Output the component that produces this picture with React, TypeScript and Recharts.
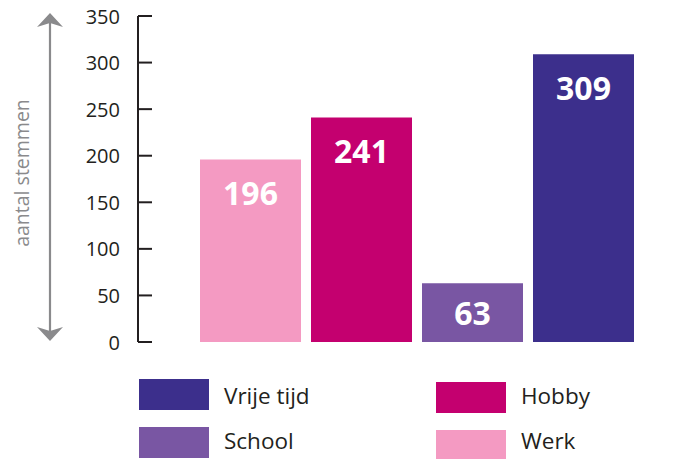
import React from "react";
import { BarChart, Bar, XAxis, YAxis, Cell, LabelList } from "recharts";

const categories = ["Werk", "Hobby", "School", "Vrije tijd"];
const votes = [196, 241, 63, 309];
const barColors = ["#f49ac2", "#c4006f", "#7956a3", "#3c2f8c"];
const yTicks = [0, 50, 100, 150, 200, 250, 300, 350];
const axisLabel = "aantal stemmen";

// legend reads in two columns: left column first, then right column
const legendOrder = ["Vrije tijd", "School", "Hobby", "Werk"];

const data = categories.map((name, i) => ({ name, votes: votes[i] }));

const FONT = "'Open Sans', 'Noto Sans', sans-serif";
const DARK = "#231f20";
const GRAY = "#8a8a8c";

function YTick(props: any) {
  const { x, y, payload } = props;
  return (
    <g>
      <line x1={x} x2={x + 14} y1={y} y2={y} stroke={DARK} strokeWidth={2} />
      <text
        x={x - 18}
        y={y}
        textAnchor="end"
        dominantBaseline="central"
        fontFamily={FONT}
        fontSize={20}
        fill={DARK}
      >
        {payload.value}
      </text>
    </g>
  );
}

function BarValue(props: any) {
  const { x, y, width, height, value } = props;
  const cy = y + Math.min(33, height / 2);
  return (
    <text
      x={x + width / 2}
      y={cy}
      textAnchor="middle"
      dominantBaseline="central"
      fontFamily={FONT}
      fontWeight={700}
      fontSize={32}
      fill="#ffffff"
    >
      {value}
    </text>
  );
}

export default function App() {
  return (
    <div style={{ position: "absolute", left: 0, top: 0, width: 692, height: 459, background: "#fff" }}>
      <BarChart
        width={692}
        height={459}
        data={data}
        margin={{ top: 16, right: 0, bottom: 117, left: 0 }}
      >
        <XAxis
          dataKey="name"
          tick={false}
          tickLine={false}
          height={0}
          padding={{ left: 57, right: 53 }}
          axisLine={{ stroke: DARK, strokeWidth: 2 }}
        />
        <YAxis
          width={138}
          domain={[0, 350]}
          ticks={yTicks}
          interval={0}
          tickSize={0}
          tickMargin={0}
          tickLine={false}
          tick={<YTick />}
          axisLine={{ stroke: DARK, strokeWidth: 2 }}
        />
        <Bar dataKey="votes" barSize={101} isAnimationActive={false}>
          {data.map((d, i) => (
            <Cell key={d.name} fill={barColors[i]} />
          ))}
          <LabelList dataKey="votes" content={<BarValue />} />
        </Bar>
      </BarChart>
      <svg
        width={692}
        height={459}
        style={{ position: "absolute", left: 0, top: 0, pointerEvents: "none" }}
      >
        <line x1={50} x2={50} y1={20} y2={334} stroke={GRAY} strokeWidth={2.2} />
        <polygon points="50,13 63,27 50,23 37,27" fill={GRAY} />
        <polygon points="50,341 63,327 50,331 37,327" fill={GRAY} />
        <text
          transform="translate(29,173) rotate(-90)"
          textAnchor="middle"
          fontFamily={FONT}
          fontSize={19.5}
          fill={GRAY}
        >
          {axisLabel}
        </text>
        {legendOrder.map((name, i) => {
          const col = Math.floor(i / 2);
          const row = i % 2;
          const sx = col === 0 ? 139 : 436;
          const sy = row === 0 ? (col === 0 ? 379 : 382) : col === 0 ? 427 : 430;
          const ty = row === 0 ? 395 : 440;
          const color = barColors[categories.indexOf(name)];
          return (
            <g key={name}>
              <rect x={sx} y={sy} width={70} height={31} fill={color} />
              <text
                x={sx + 85}
                y={ty}
                dominantBaseline="central"
                fontFamily={FONT}
                fontSize={22.5}
                fill={DARK}
              >
                {name}
              </text>
            </g>
          );
        })}
      </svg>
    </div>
  );
}
